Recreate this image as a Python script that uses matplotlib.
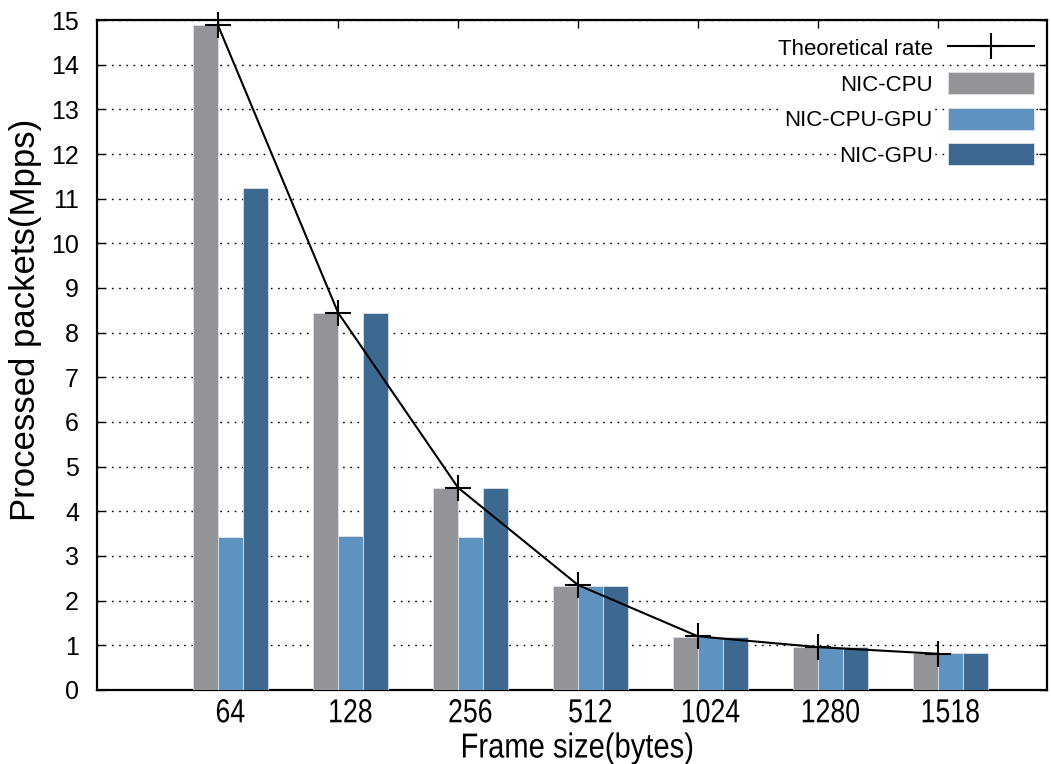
import matplotlib.pyplot as plt
import numpy as np
from matplotlib.patheffects import AbstractPathEffect
from matplotlib.transforms import Affine2D

# Frame sizes and measured rates (Mpps)
frame_sizes = ["64", "128", "256", "512", "1024", "1280", "1518"]
theoretical = [14.88, 8.45, 4.53, 2.35, 1.20, 0.96, 0.81]
nic_cpu = [14.88, 8.45, 4.53, 2.32, 1.19, 0.96, 0.82]
nic_cpu_gpu = [3.42, 3.44, 3.42, 2.32, 1.19, 0.96, 0.82]
nic_gpu = [11.24, 8.45, 4.53, 2.32, 1.19, 0.96, 0.82]

plt.rcParams['font.family'] = ['Liberation Sans', 'DejaVu Sans']


class Condense(AbstractPathEffect):
    """Squeeze text horizontally around its own centre (narrow font look)."""

    def __init__(self, sx):
        super().__init__()
        self.sx = sx

    def draw_path(self, renderer, gc, tpath, affine, rgbFace=None):
        v = tpath.vertices
        cx = (v[:, 0].min() + v[:, 0].max()) / 2 if len(v) else 0
        squeeze = Affine2D().translate(-cx, 0).scale(self.sx, 1).translate(cx, 0)
        renderer.draw_path(gc, tpath, squeeze + affine, rgbFace)


def main():
    fig = plt.figure(figsize=(10.51, 7.64), dpi=100)
    ax = fig.add_axes([0.0923, 0.0969, 0.9039, 0.8769])

    x = np.arange(len(frame_sizes))
    w = 0.2083
    edge = dict(edgecolor="#dde2e8", linewidth=0.6, zorder=3)
    ax.bar(x - w, nic_cpu, w, color="#939498", label="NIC-CPU", **edge)
    ax.bar(x, nic_cpu_gpu, w, color="#6092c0", label="NIC-CPU-GPU", **edge)
    ax.bar(x + w, nic_gpu, w, color="#3d6991", label="NIC-GPU", **edge)

    # theoretical line sits on the gray/blue bar boundary
    ax.plot(x - w / 2, theoretical, color="black", lw=1.5, marker="+",
            markersize=19, markeredgewidth=1.5, clip_on=False, zorder=5,
            label="Theoretical rate")

    ax.set_xlim(-1.1125, 6.804)
    ax.set_ylim(0, 15)
    ax.set_yticks(range(0, 16))
    ax.set_xticks(x)
    ax.set_xticklabels(frame_sizes, fontsize=24)
    for t in ax.get_xticklabels():
        t.set_path_effects([Condense(0.8)])
    ax.tick_params(axis="x", length=0, pad=6)
    ax.tick_params(axis="y", direction="in", length=6, width=1,
                   labelsize=18, right=True, pad=13)

    # top mirror ticks at the theoretical points
    top = ax.secondary_xaxis("top")
    top.set_xticks(x - w / 2)
    top.set_xticklabels([])
    top.tick_params(direction="in", length=6, width=1)
    top.spines["top"].set_visible(False)

    ax.grid(axis="y", linestyle=(0, (1.2, 4)), color="black", lw=1, zorder=1)
    for s in ax.spines.values():
        s.set_linewidth(1.6)

    xl = ax.set_xlabel("Frame size(bytes)", fontsize=25, labelpad=0)
    xl.set_path_effects([Condense(0.84)])
    ax.xaxis.set_label_coords(0.506, -0.062)
    ax.xaxis.label.set_va("top")
    ax.set_ylabel("Processed packets(Mpps)", fontsize=25)
    ax.yaxis.set_label_coords(-0.058, 0.552)

    leg = ax.legend(loc="upper right", frameon=False, markerfirst=False,
                    fontsize=16, handlelength=3.85, handleheight=1.15,
                    labelspacing=0.54, handletextpad=0.7,
                    bbox_to_anchor=(1.007, 1.005))
    for t in leg.get_texts():
        t.set_bbox(dict(facecolor="white", edgecolor="none", pad=2))
        t.set_ha("right")
    leg.set_zorder(10)

    fig.savefig("out.png", dpi=100)


if __name__ == "__main__":
    main()
